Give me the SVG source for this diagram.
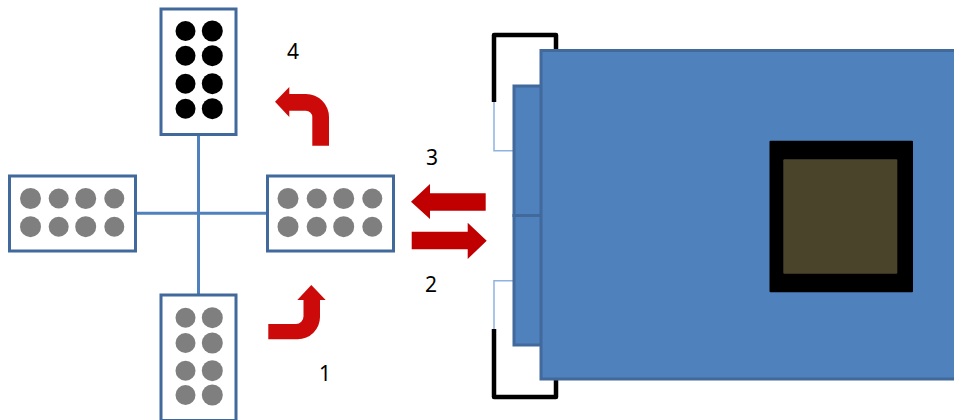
<svg xmlns="http://www.w3.org/2000/svg" width="954" height="420" viewBox="0 0 954 420">
<style>
.box{fill:#fff;stroke:#41699b;stroke-width:3}
.link{fill:none;stroke:#4f81bd;stroke-width:3}
.thin{fill:none;stroke:#8db3e2;stroke-width:1.500}
.clip{fill:none;stroke:#000;stroke-width:4.500;stroke-linejoin:round;stroke-linecap:butt}
.board{fill:#4f81bd;stroke:#41699b;stroke-width:3}
.g circle{fill:#7f7f7f}
.k circle{fill:#000}
.arrow{fill:#c00000}
.bent{fill:#cc0a0a}
text{font-family:"Noto Sans","Open Sans",sans-serif;font-size:21px;fill:#000;text-anchor:middle}
</style>
<g id="connectors">
<path class="link" d="M198.500 134V295M135 213.300H267"/>
<path class="thin" d="M494 102V150.700H514M494 329V280.700H514"/>
<path class="clip" d="M494 102V35H556V50M494 329V397H556V379"/>
</g>
<g id="node-top" class="k">
<rect class="box" x="161" y="9" width="75" height="125.500"/>
<circle cx="185.500" cy="31" r="10"/><circle cx="212.300" cy="31" r="10.500"/>
<circle cx="185.500" cy="55.700" r="10"/><circle cx="212.300" cy="55.700" r="10.500"/>
<circle cx="185.500" cy="83.700" r="10"/><circle cx="212.300" cy="83.700" r="10.500"/>
<circle cx="185.500" cy="108.700" r="10"/><circle cx="212.300" cy="108.700" r="10.500"/>
</g>
<g id="node-bottom" class="g">
<rect class="box" x="161" y="295" width="75" height="125.500"/>
<circle cx="185.500" cy="317.700" r="10"/><circle cx="212.300" cy="317.700" r="10.500"/>
<circle cx="185.500" cy="343" r="10"/><circle cx="212.300" cy="343" r="10.500"/>
<circle cx="185.500" cy="370.700" r="10"/><circle cx="212.300" cy="370.700" r="10.500"/>
<circle cx="185.500" cy="395" r="10"/><circle cx="212.300" cy="395" r="10.500"/>
</g>
<g id="node-left" class="g">
<rect class="box" x="9.500" y="176" width="126" height="75"/>
<circle cx="30.500" cy="198.500" r="10.500"/><circle cx="58.700" cy="198.500" r="10"/><circle cx="85.700" cy="198.500" r="10.500"/><circle cx="114.300" cy="198.500" r="10"/>
<circle cx="30.500" cy="226.700" r="10.500"/><circle cx="58.700" cy="226.700" r="10"/><circle cx="85.700" cy="226.700" r="10.500"/><circle cx="114.300" cy="226.700" r="10"/>
</g>
<g id="node-right" class="g">
<rect class="box" x="267.500" y="176" width="126" height="75"/>
<circle cx="288" cy="198.500" r="10.500"/><circle cx="316.700" cy="198.500" r="10"/><circle cx="343.700" cy="198.500" r="10.500"/><circle cx="372.300" cy="198.500" r="10"/>
<circle cx="288" cy="226.700" r="10.500"/><circle cx="316.700" cy="226.700" r="10"/><circle cx="343.700" cy="226.700" r="10.500"/><circle cx="372.300" cy="226.700" r="10"/>
</g>
<g id="device">
<rect class="board" x="514" y="86" width="40" height="129.500"/>
<rect class="board" x="514" y="215.500" width="40" height="129.500"/>
<rect class="board" x="541" y="50.500" width="425" height="328.500"/>
<rect x="769.500" y="140.700" width="143.500" height="151.600" rx="1" fill="#000"/>
<rect x="783.300" y="159.300" width="114" height="114.400" rx="1" fill="#4a452a"/>
</g>
<g id="arrows">
<polygon class="arrow" points="411,201.700 430,184 430,193.300 485.700,193.300 485.700,210.700 430,210.700 430,219"/>
<polygon class="arrow" points="411.700,231.700 467.700,231.700 467.700,222.700 486.700,240.700 467.700,259 467.700,249.300 411.700,249.300"/>
<path class="bent" d="M312.300 145.700V117A6.500 6.500 0 0 0 305.800 110.700H289.300V117L275 101.700L289.300 87V94H306A23 23 0 0 1 329 117V145.700Z"/>
<path class="bent" d="M268.300 324H296A7.500 7.500 0 0 0 303.500 316.500V300H297.300L311.300 285L325.700 300H320V317A22.300 22.300 0 0 1 297.700 339.300H268.300Z"/>
</g>
<g id="labels">
<text x="293" y="59">4</text>
<text x="432" y="165">3</text>
<text x="431" y="292">2</text>
<text x="325" y="381">1</text>
</g>
</svg>
